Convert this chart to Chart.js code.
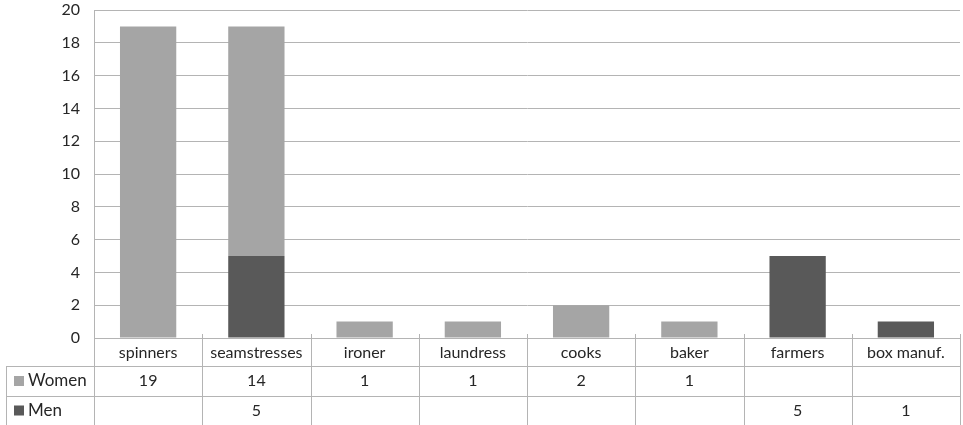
<!DOCTYPE html>
<html>
<head>
<meta charset="utf-8">
<script src="https://cdn.jsdelivr.net/npm/chart.js@4"></script>
<style>
  html, body { margin: 0; padding: 0; background: #fff; }
  #wrap { width: 963px; height: 425px; }
</style>
</head>
<body>
<div id="wrap"><canvas id="jobsChart"></canvas></div>
<script>
const occupations = ['spinners', 'seamstresses', 'ironer', 'laundress', 'cooks', 'baker', 'farmers', 'box manuf.'];
const women = [19, 14, 1, 1, 2, 1, null, null];
const men = [null, 5, null, null, null, null, 5, 1];
const yTicks = [0, 2, 4, 6, 8, 10, 12, 14, 16, 18, 20];

const FONT = 'Lato, "Open Sans", sans-serif';
const lineColor = '#b4b4b4';
const textColor = '#262626';

// data table drawn under the plot, columns follow the x scale
const dataTable = {
    id: 'dataTable',
    afterDraw(chart) {
        const ctx = chart.ctx;
        const x = chart.scales.x;
        const area = chart.chartArea;
        const n = occupations.length;
        const step = (area.right - area.left) / n;
        const rows = [area.bottom, area.bottom + 28, area.bottom + 58, area.bottom + 87];
        const leftCol = 6;

        ctx.save();
        ctx.strokeStyle = lineColor;
        ctx.lineWidth = 1;
        ctx.beginPath();
        // horizontal lines
        ctx.moveTo(area.left, rows[0] + 0.5);
        ctx.lineTo(area.right, rows[0] + 0.5);
        for (let r = 1; r < rows.length; r++) {
            ctx.moveTo(leftCol, rows[r] + 0.5);
            ctx.lineTo(area.right, rows[r] + 0.5);
        }
        // vertical lines
        ctx.moveTo(leftCol + 0.5, rows[1]);
        ctx.lineTo(leftCol + 0.5, rows[3]);
        for (let i = 0; i <= n; i++) {
            const px = Math.round(area.left + i * step) + 0.5;
            ctx.moveTo(px, rows[0] - (i === 0 ? 0 : 4));
            ctx.lineTo(px, rows[3]);
        }
        ctx.stroke();

        ctx.font = '16px ' + FONT;
        ctx.fillStyle = textColor;
        ctx.textAlign = 'center';
        ctx.textBaseline = 'middle';
        occupations.forEach((name, i) => {
            const cx = x.getPixelForValue(i);
            ctx.fillText(name, cx, (rows[0] + rows[1]) / 2 + 1);
            if (women[i] != null) ctx.fillText(String(women[i]), cx, (rows[1] + rows[2]) / 2);
            if (men[i] != null) ctx.fillText(String(men[i]), cx, (rows[2] + rows[3]) / 2);
        });

        // legend keys in the first column
        const series = chart.data.datasets;
        const order = [series[1], series[0]];
        order.forEach((ds, k) => {
            const cy = (rows[k + 1] + rows[k + 2]) / 2;
            ctx.fillStyle = ds.backgroundColor;
            ctx.fillRect(14, cy - 5, 10, 10);
            ctx.fillStyle = textColor;
            ctx.textAlign = 'left';
            ctx.font = '17px ' + FONT;
            ctx.fillText(ds.label, 28, cy);
        });
        ctx.restore();
    }
};

new Chart(document.getElementById('jobsChart'), {
    type: 'bar',
    data: {
        labels: occupations,
        datasets: [
            {
                label: 'Men',
                data: men,
                backgroundColor: '#595959',
                barPercentage: 0.52,
                categoryPercentage: 1
            },
            {
                label: 'Women',
                data: women,
                backgroundColor: '#a5a5a5',
                barPercentage: 0.52,
                categoryPercentage: 1
            }
        ]
    },
    options: {
        responsive: true,
        maintainAspectRatio: false,
        animation: false,
        layout: { padding: { top: 10, right: 3, bottom: 87, left: 0 } },
        plugins: {
            legend: { display: false },
            tooltip: { enabled: false }
        },
        scales: {
            x: {
                stacked: true,
                display: false
            },
            y: {
                stacked: true,
                min: 0,
                max: 20,
                afterBuildTicks(axis) {
                    axis.ticks = yTicks.map(v => ({ value: v }));
                },
                afterFit(axis) {
                    axis.width = 94;
                    axis.paddingTop = 0;
                    axis.paddingBottom = 0;
                },
                border: { display: true, color: lineColor },
                grid: { color: lineColor, drawTicks: false },
                ticks: {
                    padding: 14,
                    color: textColor,
                    font: { family: FONT, size: 16 }
                }
            }
        }
    },
    plugins: [dataTable]
});
</script>
</body>
</html>
